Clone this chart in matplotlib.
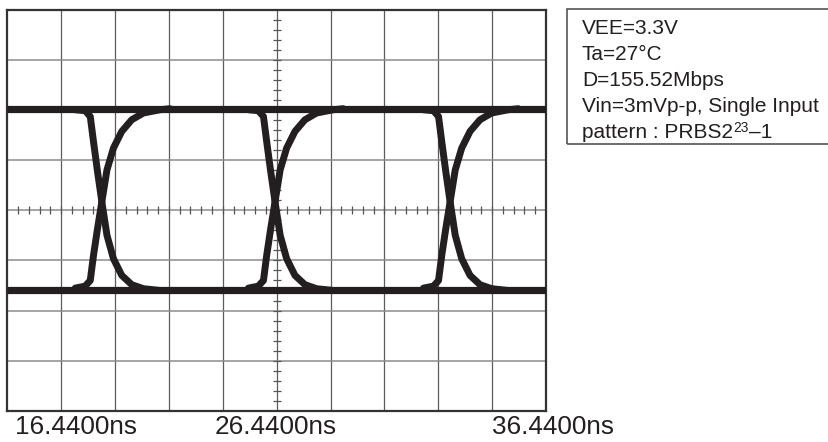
import numpy as np
import matplotlib
matplotlib.use("Agg")
import matplotlib.pyplot as plt
from matplotlib.patches import Rectangle

plt.rcParams['font.family'] = ['Liberation Sans', 'DejaVu Sans']

# ---- data ----
x_start_ns = 16.44
x_end_ns = 36.44
x_tick_labels = ["16.4400ns", "26.4400ns", "36.4400ns"]
high_level = 6.03          # divisions
low_level = 2.40           # divisions
crossings_ns = [19.95, 26.38, 32.88]
# transition shape relative to crossing (ns) and fraction of swing
rise_offset_ns = [-0.99, -0.62, -0.43, -0.31, -0.16, 0.0, 0.19, 0.43, 0.74, 1.11, 1.54, 2.16, 2.53]
rise_frac = [0.013, 0.024, 0.055, 0.193, 0.341, 0.488, 0.663, 0.783, 0.875, 0.939, 0.976, 0.994, 1.0]
fall_offset_ns = [-0.99, -0.62, -0.43, -0.31, -0.16, 0.0, 0.19, 0.43, 0.74, 1.11, 1.54, 2.16, 2.53]
fall_frac = [0.006, 0.011, 0.043, 0.181, 0.347, 0.512, 0.696, 0.825, 0.917, 0.968, 0.990, 1.0, 1.0]
info_lines = ["VEE=3.3V", "Ta=27°C", "D=155.52Mbps", "Vin=3mVp-p, Single Input"]
pattern_parts = ["pattern : PRBS2", "23", "–1"]

W, H = 829, 442
trace = '#231f20'

fig = plt.figure(figsize=(W / 100, H / 100), dpi=100)
left, right, top, bottom = 7.3, 546.0, 10.0, 410.7
ax = fig.add_axes([left / W, 1 - bottom / H, (right - left) / W, (bottom - top) / H])
ax.set_xlim(x_start_ns, x_end_ns)
ax.set_ylim(0, 8)
ax.set_xticks([])
ax.set_yticks([])
for s in ax.spines.values():
    s.set_linewidth(1.6)
    s.set_color('#333333')

div_ns = (x_end_ns - x_start_ns) / 10
for k in range(1, 10):
    ax.axvline(x_start_ns + k * div_ns, color='#5c5c5c', lw=0.9, zorder=1)
for k in range(1, 8):
    ax.axhline(k, color='#8c8c8c', lw=1.1, zorder=1)

# centre graticule ticks
xs = x_start_ns + np.arange(1, 50) * div_ns / 5
ax.plot(xs, np.full_like(xs, 4.0), ls='none', marker='|', ms=6, mew=0.9, color='#555555', zorder=2)
ys = np.arange(1, 40) * 0.2
ax.plot(np.full_like(ys, x_start_ns + 5 * div_ns), ys, ls='none', marker='_', ms=6, mew=0.9,
        color='#555555', zorder=2)

# level lines
ax.axhline(high_level, color=trace, lw=5.2, zorder=3, solid_capstyle='butt')
ax.axhline(low_level, color=trace, lw=5.2, zorder=3, solid_capstyle='butt')

swing = high_level - low_level
for c in crossings_ns:
    ax.plot(c + np.array(rise_offset_ns), low_level + np.array(rise_frac) * swing,
            color=trace, lw=5.0, zorder=4, solid_joinstyle='round', solid_capstyle='round')
    ax.plot(c + np.array(fall_offset_ns), high_level - np.array(fall_frac) * swing,
            color=trace, lw=5.0, zorder=4, solid_joinstyle='round', solid_capstyle='round')

# x labels
label_left_px = [15, 215, 492]
for lab, px in zip(x_tick_labels, label_left_px):
    fig.text(px / W, 1 - 434.3 / H, lab, ha='left', va='baseline', fontsize=18.8, color=trace)

# info box
box = Rectangle((566.7 / W, 1 - 144 / H), (840 - 566.7) / W, (144 - 9) / H,
                transform=fig.transFigure, fill=False, edgecolor='#555555', lw=1.2, clip_on=False)
fig.patches.append(box)
fs = 15.0
for i, line in enumerate(info_lines):
    yb = 34.3 + 25.8 * i
    fig.text(582 / W, 1 - yb / H, line, ha='left', va='baseline', fontsize=fs, color=trace)

# last line with superscript
yb = 34.3 + 25.8 * 4
renderer = fig.canvas.get_renderer()
t1 = fig.text(582 / W, 1 - yb / H, pattern_parts[0], ha='left', va='baseline', fontsize=fs, color=trace)
x1 = t1.get_window_extent(renderer).x1
t2 = fig.text((x1 + 0.5) / W, 1 - (yb - 5.5) / H, pattern_parts[1], ha='left', va='baseline',
              fontsize=fs * 0.66, color=trace)
x2 = t2.get_window_extent(renderer).x1
fig.text((x2 + 0.5) / W, 1 - yb / H, pattern_parts[2], ha='left', va='baseline', fontsize=fs, color=trace)

fig.savefig('out.png', dpi=100)
